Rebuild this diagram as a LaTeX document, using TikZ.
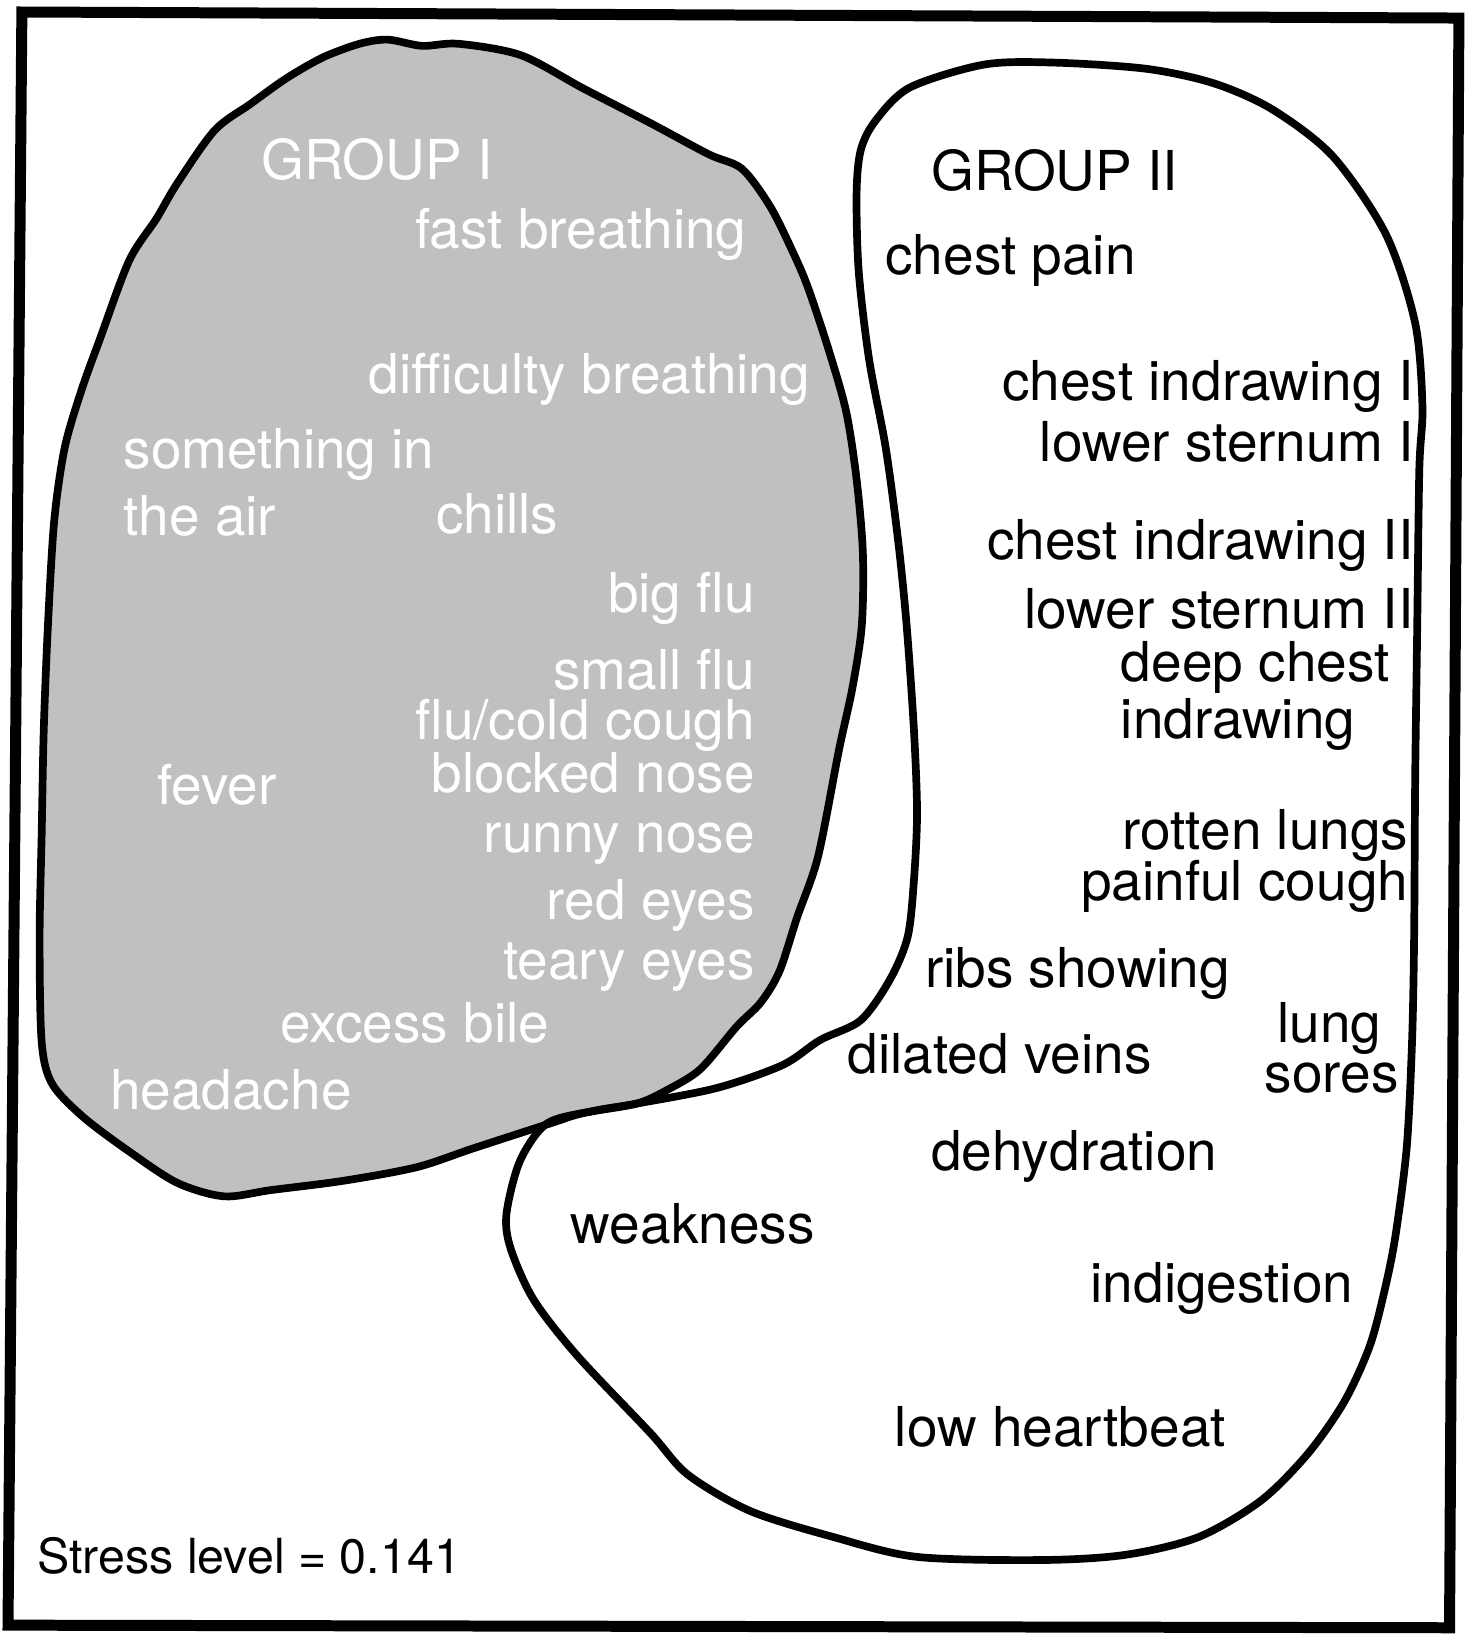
\documentclass[tikz,border=0pt]{standalone}
\usepackage{fontspec}
\setmainfont{TeX Gyre Heros}
\begin{document}
\begin{tikzpicture}[x=0.01cm,y=-0.01cm,
  lbl/.style={font=\fontsize{15}{18}\selectfont, inner sep=0pt, text=black},
  wlbl/.style={lbl, text=white},
  blob/.style={line width=2.1pt, line join=round},
  frame/.style={line width=3pt, line join=miter}]
\definecolor{stipple}{RGB}{192,192,192}
\useasboundingbox (0,0) rectangle (1405,1568);
% outer frame
\draw[frame] (21,11.5) -- (1400,17.3) -- (1391,1562) -- (7.7,1559.5) -- cycle;
% Group I blob
\draw[blob, fill=stipple] plot[smooth cycle, tension=0.5] coordinates {
 (372,38) (405,44) (440,42) (500,53) (560,85) (624,118) (680,148) (712,162)
 (739,198) (760,240) (775,275) (795,335) (812,395) (822,460) (828,530) (827,600)
 (818,660) (805,720) (785,822) (765,880) (748,932) (730,962) (707,985) (672,1026)
 (640,1046) (611,1059) (560,1068) (528,1078) (454,1102) (400,1120) (330,1133)
 (260,1142) (215,1148) (170,1135) (124,1105) (80,1072) (50,1040) (40,1000)
 (38,900) (40,800) (42,700) (46,600) (52,500) (62,430) (78,375) (96,325)
 (124,250) (150,210) (170,176) (206,125) (240,100) (275,75) (310,55) (345,42)};
% Group II blob
\draw[blob] plot[smooth cycle, tension=0.5] coordinates {
 (826,144) (840,116) (873,84) (944,62) (1010,60) (1100,66) (1165,80) (1221,105)
 (1279,150) (1330,225) (1358,310) (1365,390) (1362,450) (1360,600) (1358,750)
 (1357,900) (1355,1000) (1350,1100) (1340,1180) (1331,1228) (1315,1290)
 (1290,1345) (1255,1395) (1210,1440) (1150,1475) (1080,1492) (1000,1497)
 (880,1494) (800,1475) (720,1450) (660,1415) (624,1375) (554,1301) (512,1247)
 (490,1198) (486,1165) (499,1114) (525,1078) (570,1066) (611,1059) (688,1044)
 (751,1022) (787,998) (826,979) (854,940) (871,899) (877,845) (880,780)
 (877,700) (870,600) (862,520) (850,430) (834,345) (824,260) (822,185)};
% Group I labels
\node[wlbl, anchor=base west] (g1) at (250,172) {GROUP I};
\node[wlbl, anchor=base east] (fastb) at (717,238) {fast breathing};
\node[wlbl, anchor=base east] (diffb) at (778,378) {difficulty breathing};
\node[wlbl, anchor=base west] (somein) at (118,450) {something in};
\node[wlbl, anchor=base west] (theair) at (118,514) {the air};
\node[wlbl, anchor=base west] (chills) at (418,512) {chills};
\node[wlbl, anchor=base east] (bigflu) at (725,588) {big flu};
\node[wlbl, anchor=base east] (smallflu) at (725,662) {small flu};
\node[wlbl, anchor=base east] (flucold) at (725,710) {flu/cold cough};
\node[wlbl, anchor=base east] (blocked) at (725,760) {blocked nose};
\node[wlbl, anchor=base west] (fever) at (150,772) {fever};
\node[wlbl, anchor=base east] (runny) at (725,818) {runny nose};
\node[wlbl, anchor=base east] (redeyes) at (725,882) {red eyes};
\node[wlbl, anchor=base east] (teary) at (725,940) {teary eyes};
\node[wlbl, anchor=base west] (bile) at (268,1000) {excess bile};
\node[wlbl, anchor=base west] (headache) at (105,1065) {headache};
% Group II labels
\node[lbl, anchor=base west] (g2) at (893,183) {GROUP II};
\node[lbl, anchor=base west] (cpain) at (849,263) {chest pain};
\node[lbl, anchor=base east] (ci1) at (1357,384) {chest indrawing I};
\node[lbl, anchor=base east] (ls1) at (1357,443) {lower sternum I};
\node[lbl, anchor=base east] (ci2) at (1357,537) {chest indrawing II};
\node[lbl, anchor=base east] (ls2) at (1357,603) {lower sternum II};
\node[lbl, anchor=base west] (deep) at (1075,654) {deep chest};
\node[lbl, anchor=base west] (indr) at (1075,709) {indrawing};
\node[lbl, anchor=base east] (rotten) at (1352,815) {rotten lungs};
\node[lbl, anchor=base east] (painful) at (1352,864) {painful cough};
\node[lbl, anchor=base west] (ribs) at (887,948) {ribs showing};
\node[lbl, anchor=base west] (lung) at (1225,1000) {lung};
\node[lbl, anchor=base west] (sores) at (1213,1048) {sores};
\node[lbl, anchor=base west] (dilated) at (813,1030) {dilated veins};
\node[lbl, anchor=base west] (dehyd) at (893,1123) {dehydration};
\node[lbl, anchor=base west] (weak) at (547,1193) {weakness};
\node[lbl, anchor=base west] (indig) at (1046,1250) {indigestion};
\node[lbl, anchor=base west] (lowhb) at (858,1388) {low heartbeat};
\node[lbl, font=\fontsize{13.2}{16}\selectfont, anchor=base west] (stress) at (35,1510) {Stress level = 0.141};
\end{tikzpicture}
\end{document}
